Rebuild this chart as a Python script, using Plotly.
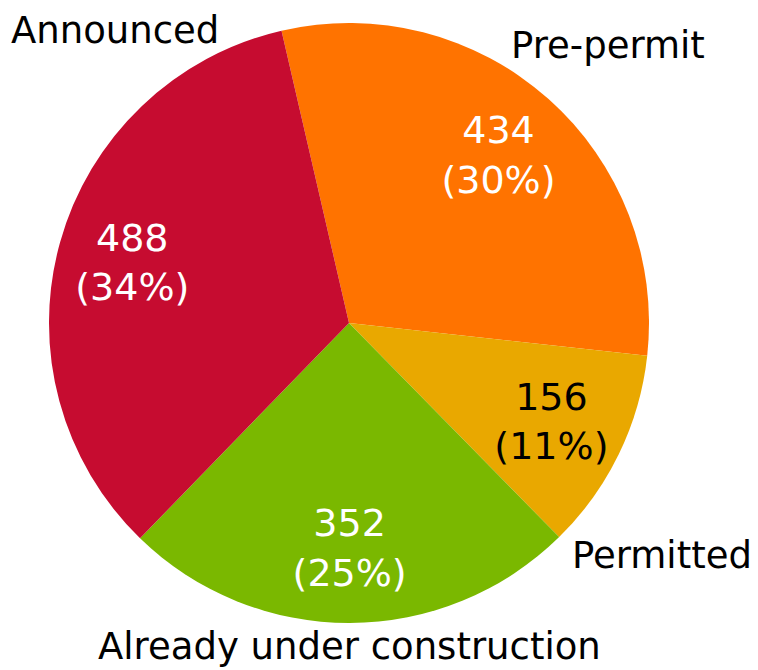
import plotly.graph_objects as go

# project pipeline by stage
stages = ["Pre-permit", "Permitted", "Already under construction", "Announced"]
counts = [434, 156, 352, 488]
colors = ["#FF7300", "#E9A800", "#7AB800", "#C60C30"]
text_colors = ["white", "black", "white", "white"]

# where the stage names sit on the page (pixels from top-left)
label_pos = {
    "Pre-permit": (608, 45),
    "Permitted": (662, 555),
    "Already under construction": (349, 646),
    "Announced": (115, 31),
}

# the page body has an 8px margin, so the figure starts at (8, 8)
OFF = 8
W, H = 758 - OFF, 670 - OFF
FONT = "DejaVu Sans, Verdana, sans-serif"

cx, cy, r = 349 - OFF, 323 - OFF, 300
dom = dict(x=[(cx - r) / W, (cx + r) / W], y=[1 - (cy + r) / H, 1 - (cy - r) / H])

# coloured slices
fig = go.Figure(go.Pie(
    labels=stages,
    values=counts,
    sort=False,
    direction="clockwise",
    rotation=-13,
    marker=dict(colors=colors, line=dict(width=0)),
    textinfo="none",
    hoverinfo="label+value+percent",
    domain=dom,
    showlegend=False,
))

# transparent ring on top, only to carry the value labels further out
fig.add_trace(go.Pie(
    labels=stages,
    values=counts,
    sort=False,
    direction="clockwise",
    rotation=-13,
    hole=0.5,
    marker=dict(colors=["rgba(0,0,0,0)"] * len(stages), line=dict(width=0)),
    texttemplate="%{value}<br>(%{percent:.0%})",
    textposition="inside",
    insidetextorientation="horizontal",
    insidetextfont=dict(family=FONT, size=38, color=text_colors),
    hoverinfo="skip",
    domain=dom,
    showlegend=False,
))

# stage names around the pie
for name, (px, py) in label_pos.items():
    fig.add_annotation(
        x=(px - OFF) / W, y=1 - (py - OFF) / H, xref="paper", yref="paper",
        text=name, showarrow=False,
        xanchor="center", yanchor="middle",
        font=dict(family=FONT, size=37, color="black"),
    )

fig.update_layout(
    width=W, height=H,
    margin=dict(l=0, r=0, t=0, b=0),
    paper_bgcolor="white",
    plot_bgcolor="white",
    uniformtext=dict(minsize=38, mode="show"),
)

fig.write_html("out.html")
